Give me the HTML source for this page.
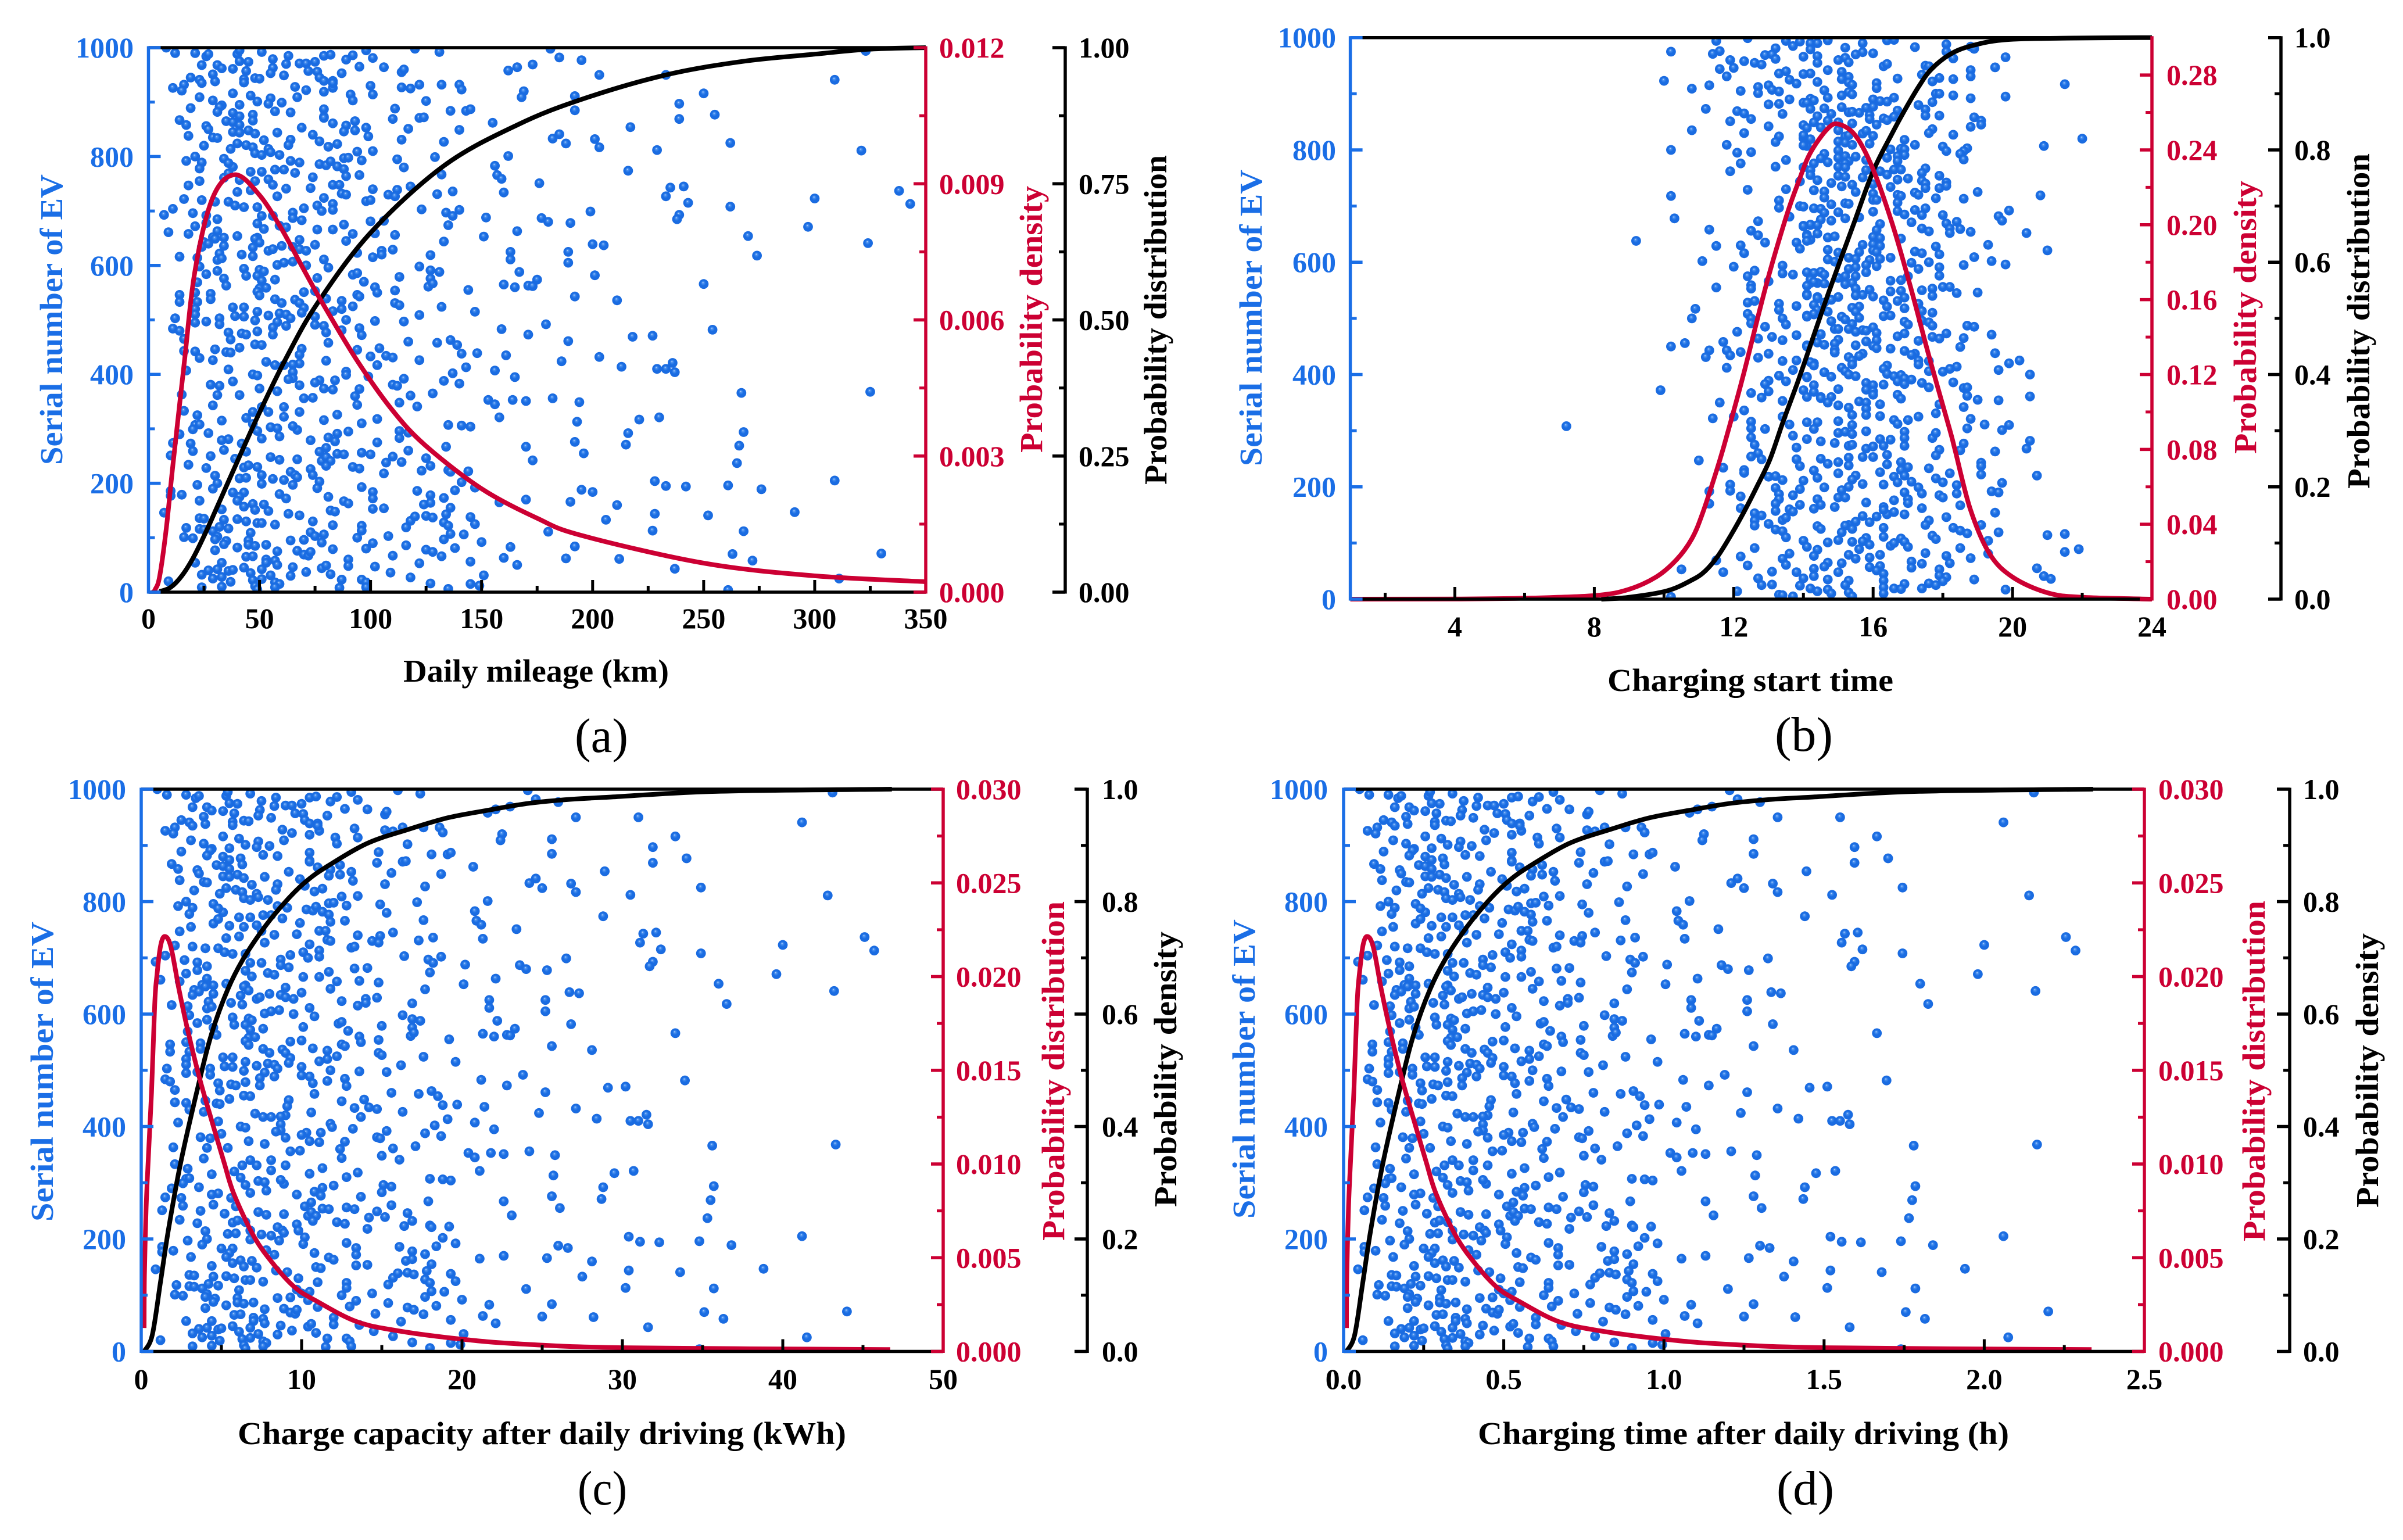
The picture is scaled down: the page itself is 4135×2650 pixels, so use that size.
<!DOCTYPE html>
<html lang="en">
<head>
<meta charset="utf-8">
<title>EV charging statistics: four scatter and distribution panels</title>
<style>
html,body{margin:0;padding:0;background:#fff}
svg{display:block}
text{font-family:"Liberation Serif",serif}
.tl{font-size:50px;font-weight:bold}
.at{font-size:55px;font-weight:bold}
</style>
</head>
<body>
<svg id="fig" xmlns="http://www.w3.org/2000/svg" width="4135" height="2650" viewBox="0 0 4135 2650">
<defs>
<radialGradient id="ball" cx="50%" cy="50%" r="52%" fx="42%" fy="34%">
<stop offset="0" stop-color="#d8e8ff"/>
<stop offset="0.16" stop-color="#4d93f0"/>
<stop offset="0.5" stop-color="#1a6de2"/>
<stop offset="1" stop-color="#1a6ae0"/>
</radialGradient>
</defs>
<g id="panel-a">
<text class="at" fill="#1a6ee6" transform="translate(107,800) rotate(-90)" textLength="500" lengthAdjust="spacingAndGlyphs">Serial number of EV</text>
<text class="at" fill="#cc0033" transform="translate(1793,779) rotate(-90)" textLength="459" lengthAdjust="spacingAndGlyphs">Probability density</text>
<text class="at" fill="#000" transform="translate(2007,834) rotate(-90)" textLength="567" lengthAdjust="spacingAndGlyphs">Probability distribution</text>
<text class="at" fill="#000" x="694" y="1173" textLength="457" lengthAdjust="spacingAndGlyphs">Daily mileage (km)</text>
<text fill="#000" font-size="84" x="989" y="1294" textLength="92" lengthAdjust="spacingAndGlyphs">(a)</text>
</g>
<g id="panel-b">
<text class="at" fill="#1a6ee6" transform="translate(2171,802) rotate(-90)" textLength="510" lengthAdjust="spacingAndGlyphs">Serial number of EV</text>
<text class="at" fill="#cc0033" transform="translate(3882,781) rotate(-90)" textLength="470" lengthAdjust="spacingAndGlyphs">Probability density</text>
<text class="at" fill="#000" transform="translate(4077,841) rotate(-90)" textLength="577" lengthAdjust="spacingAndGlyphs">Probability distribution</text>
<text class="at" fill="#000" x="2766" y="1189" textLength="492" lengthAdjust="spacingAndGlyphs">Charging start time</text>
<text fill="#000" font-size="84" x="3054" y="1292" textLength="100" lengthAdjust="spacingAndGlyphs">(b)</text>
</g>
<g id="panel-c">
<text class="at" fill="#1a6ee6" transform="translate(91,2102) rotate(-90)" textLength="516" lengthAdjust="spacingAndGlyphs">Serial number of EV</text>
<text class="at" fill="#cc0033" transform="translate(1831,2135) rotate(-90)" textLength="584" lengthAdjust="spacingAndGlyphs">Probability distribution</text>
<text class="at" fill="#000" transform="translate(2024,2077) rotate(-90)" textLength="474" lengthAdjust="spacingAndGlyphs">Probability density</text>
<text class="at" fill="#000" x="409" y="2485" textLength="1047" lengthAdjust="spacingAndGlyphs">Charge capacity after daily driving (kWh)</text>
<text fill="#000" font-size="84" x="994" y="2589" textLength="85" lengthAdjust="spacingAndGlyphs">(c)</text>
</g>
<g id="panel-d">
<text class="at" fill="#1a6ee6" transform="translate(2159,2097) rotate(-90)" textLength="515" lengthAdjust="spacingAndGlyphs">Serial number of EV</text>
<text class="at" fill="#cc0033" transform="translate(3897,2136) rotate(-90)" textLength="586" lengthAdjust="spacingAndGlyphs">Probability distribution</text>
<text class="at" fill="#000" transform="translate(4092,2078) rotate(-90)" textLength="472" lengthAdjust="spacingAndGlyphs">Probability density</text>
<text class="at" fill="#000" x="2543" y="2485" textLength="914" lengthAdjust="spacingAndGlyphs">Charging time after daily driving (h)</text>
<text fill="#000" font-size="84" x="3057" y="2589" textLength="99" lengthAdjust="spacingAndGlyphs">(d)</text>
</g>
</svg>
<script>
// Serial numbers of the EVs shown in panels a, c and d
const serialNumbers=[
1000,990,990,984,988,988,995,992,985,979,975,974,968,968,962,961,971,971,974,970,963,985,987,978,986,995,981,965,964,998,992,998,982,977,969,964,958,950,950,
945,941,935,938,951,957,942,936,944,943,953,949,957,956,945,939,939,953,955,960,926,932,921,928,922,919,926,935,930,927,925,932,932,932,923,
909,916,912,903,895,894,891,901,907,897,899,909,914,914,903,902,920,909,911,885,889,882,880,874,877,883,881,887,888,884,884,887,873,
867,858,865,863,858,866,871,865,869,871,872,862,856,850,848,842,845,844,844,853,857,861,846,848,853,851,849,854,838,835,834,830,831,840,837,831,827,833,841,824,832,
820,814,824,821,817,814,821,823,828,818,810,817,812,801,799,806,803,808,803,809,800,792,796,789,792,795,797,798,793,786,784,791,783,
781,788,789,778,782,780,774,767,772,772,776,776,770,777,761,769,762,764,766,766,759,755,757,755,758,747,748,741,742,748,748,740,745,739,751,734,735,738,
732,730,727,731,736,730,727,724,722,720,717,717,710,707,710,713,718,720,705,700,702,703,697,691,702,699,704,693,696,707,697,692,
685,691,687,683,691,677,678,672,673,670,675,681,682,687,680,678,688,674,661,663,666,666,667,663,658,652,651,656,659,658,653,649,651,654,649,643,647,645,644,
640,636,642,634,633,636,634,630,627,638,639,637,627,630,623,629,627,620,615,619,625,625,622,616,614,610,620,617,613,611,596,607,605,601,600,598,611,605,
598,594,592,589,590,591,588,588,582,584,581,581,583,586,570,579,577,574,576,576,569,563,572,565,560,563,562,574,561,567,558,559,560,555,554,
552,551,553,550,546,545,550,548,546,543,543,536,533,538,538,533,531,539,535,537,531,531,527,524,523,523,515,520,510,522,513,525,516,520,515,508,512,510,507,506,509,
503,503,506,503,499,500,495,497,496,492,491,489,498,497,492,486,484,480,477,479,489,477,481,485,472,483,465,475,473,473,473,469,471,464,458,460,458,463,454,461,
455,454,449,443,442,446,441,440,447,445,448,436,438,439,435,433,434,431,425,423,417,417,420,418,426,424,432,430,426,417,413,
407,409,404,405,402,407,414,410,410,400,398,393,396,399,392,395,387,391,389,389,381,379,388,383,381,379,380,385,374,372,373,363,362,374,369,360,361,365,356,357,362,353,345,353,351,356,349,343,344,348,341,340,340,
941,916,897,877,869,825,811,743,745,727,715,708,723,737,713,693,685,671,654,641,618,566,482,421,404,366,368,994,
321,294,269,237,195,194,196,189,205,141,147,112,70,58,71,43,25,4,
333,325,307,308,299,290,292,315,320,331,296,309,303,301,282,286,298,305,322,331,331,316,326,310,318,279,284,291,295,277,296,283,293,275,267,307,306,304,321,267,242,313,292,317,276,255,271,
274,273,259,251,250,261,281,279,273,258,245,248,243,244,258,265,254,253,256,253,249,260,238,239,246,241,248,241,232,
234,228,229,233,230,230,227,226,215,223,232,224,221,222,218,
214,200,190,209,210,215,199,208,206,221,215,211,197,203,191,193,184,172,202,187,192,186,178,173,
197,186,177,179,146,168,183,183,175,168,180,172,175,167,163,165,170,166,188,184,160,204,
152,157,162,151,161,149,144,141,150,148,153,154,161,164,155,143,144,133,
136,135,134,130,133,120,117,127,127,124,130,123,122,113,119,131,139,140,137,128,122,138,125,111,113,
118,116,115,112,102,109,101,99,97,94,88,95,87,85,87,82,77,95,96,110,103,91,106,100,90,103,97,107,106,92,86,81,80,
75,76,69,67,74,79,78,74,66,67,83,84,63,62,61,65,66,60,54,58,50,60,48,56,50,53,
54,54,39,41,45,42,35,46,44,49,47,37,42,40,32,
31,25,28,30,33,36,27,22,24,20,19,18,15,23,23,18,16,15,31,10,9,11,9,8,9,6,12,5];

// Panel a: daily mileage (km) of the same EVs
const mileageKm=[
8,12,21,26,27,40,41,51,63,56,41,45,24,31,33,38,68,71,75,62,56,79,82,89,92,98,101,95,106,120,131,181,185,195,173,166,162,203,233,
19,23,24,30,29,44,43,43,48,50,55,61,72,76,77,79,83,87,114,115,11,16,15,66,71,79,83,83,100,114,118,122,132,140,141,
23,38,46,29,41,33,32,49,55,54,60,67,91,101,92,125,169,168,192,192,19,31,38,41,47,57,64,79,111,136,143,145,79,
14,17,35,38,41,47,79,93,110,122,124,155,26,27,45,48,38,41,58,69,89,83,88,93,98,117,140,217,18,29,31,52,64,74,99,114,133,182,185,188,201,
25,37,40,44,47,54,63,85,77,81,101,203,229,162,129,48,51,55,59,94,21,17,34,24,64,112,88,90,96,77,80,82,156,
38,36,68,23,85,115,216,132,46,51,57,61,66,88,34,36,74,89,95,157,159,23,41,48,54,18,56,62,73,83,86,101,118,112,176,160,40,46,
87,89,58,130,137,108,111,79,16,24,30,36,39,43,76,83,98,100,70,78,83,123,134,137,140,199,11,7,20,49,65,26,
31,56,65,69,51,49,26,21,59,62,88,100,106,177,180,190,152,135,9,31,76,83,52,166,18,29,34,111,102,92,151,30,49,40,48,25,68,89,133,
27,34,50,24,47,60,65,68,71,75,200,205,54,56,94,110,105,105,101,127,163,189,32,14,22,31,42,47,33,79,81,65,61,58,71,122,163,189,
23,43,50,52,31,127,131,167,201,26,44,49,92,94,97,113,76,57,127,34,22,35,51,160,165,171,173,175,126,128,50,53,102,144,111,
49,70,75,103,14,50,21,28,94,95,192,211,14,28,57,22,60,80,87,66,68,111,113,132,38,43,49,21,21,70,69,92,83,87,147,54,59,62,39,43,122,
12,64,75,32,48,89,21,26,58,32,75,62,102,115,179,56,11,14,36,49,79,80,87,95,96,159,16,42,44,56,171,218,227,37,81,117,130,136,139,189,
48,51,41,16,21,30,35,37,69,94,104,68,141,148,161,100,107,110,80,53,57,61,68,65,122,186,203,23,29,103,143,
17,36,65,89,137,156,213,229,233,47,49,65,99,89,115,165,38,63,77,84,110,112,133,140,28,32,68,75,79,83,95,15,31,50,58,93,118,128,70,74,41,153,156,164,170,182,194,29,94,113,121,51,61,
309,250,239,255,239,262,321,235,241,233,243,262,300,338,343,239,238,297,270,324,274,250,254,236,237,267,325,323,
230,268,266,265,233,242,261,276,309,252,291,268,263,272,330,237,311,261,
16,22,21,23,20,14,27,33,44,47,49,47,55,58,51,59,67,65,61,54,68,79,85,96,103,73,81,85,90,84,113,113,117,103,134,135,141,145,158,170,173,193,216,221,192,196,215,
11,19,20,10,28,34,36,33,42,44,39,55,59,67,77,80,85,88,96,100,110,117,107,114,125,78,80,82,80,
18,26,43,45,49,92,95,73,74,123,127,135,136,144,106,
30,31,29,41,44,51,51,56,61,64,66,67,65,77,76,96,101,101,141,138,147,121,127,133,
22,10,10,15,7,23,38,43,41,40,59,62,81,88,90,158,170,190,195,200,211,228,
33,43,47,48,52,54,63,68,82,84,101,106,124,127,136,134,228,206,
23,25,40,44,34,32,36,49,51,57,74,83,96,96,116,118,120,125,128,133,135,145,147,180,227,
17,23,25,29,31,46,16,20,30,35,34,45,45,48,53,40,30,64,70,73,75,78,79,94,101,108,133,136,142,150,116,138,98,
58,67,70,72,73,83,125,128,132,110,163,192,160,188,212,44,47,53,53,57,58,90,90,145,166,122,
21,33,36,38,43,51,46,65,78,80,102,71,31,27,24,
55,29,33,64,82,109,118,47,51,9,37,57,59,87,96,98,127,145,151,33,24,48,57,86,98,135,149,49];

// Panel c: charge capacity (kWh) of the same EVs
const chargeKwh=[
1,1.6,2.8,3.4,3.6,5.3,5.4,6.8,8.4,7.5,5.5,6,3.2,4.1,4.4,5.1,9,9.4,10,8.3,7.4,10.5,10.9,11.8,12.2,13.1,13.5,12.7,14.1,16,17.4,24.1,24.6,26,23,22.1,21.6,27.1,31,
2.5,3,3.2,4,3.9,5.8,5.7,5.7,6.4,6.7,7.3,8.1,9.6,10.1,10.2,10.5,11,11.6,15.2,15.3,1.5,2.1,2,8.8,9.4,10.5,11.1,11,13.3,15.2,15.7,16.3,17.6,18.6,18.8,
3.1,5.1,6.1,3.9,5.5,4.4,4.3,6.5,7.3,7.2,8,8.9,12.1,13.5,12.2,16.6,22.5,22.4,25.6,25.6,2.5,4.1,5.1,5.5,6.2,7.6,8.5,10.5,14.8,18.1,19.1,19.3,10.5,
1.9,2.3,4.7,5.1,5.5,6.3,10.5,12.4,14.7,16.3,16.5,20.7,3.5,3.6,6,6.4,5.1,5.5,7.7,9.2,11.8,11,11.7,12.4,13.1,15.6,18.7,28.9,2.4,3.9,4.1,6.9,8.5,9.9,13.2,15.2,17.7,24.2,24.6,25,26.8,
3.3,4.9,5.3,5.9,6.3,7.2,8.4,11.3,10.2,10.8,13.5,27.1,30.5,21.6,17.2,6.4,6.8,7.3,7.9,12.5,2.8,2.3,4.5,3.2,8.5,14.9,11.7,12,12.8,10.3,10.7,10.9,20.8,
5.1,4.8,9.1,3,11.3,15.3,28.8,17.6,6.1,6.8,7.6,8.1,8.8,11.7,4.5,4.8,9.9,11.8,12.7,20.9,21.2,3.1,5.5,6.4,7.2,2.4,7.5,8.3,9.7,11.1,11.5,13.5,15.7,14.9,23.4,21.3,5.3,6.1,
11.6,11.8,7.7,17.3,18.2,14.4,14.8,10.5,2.1,3.2,4,4.8,5.2,5.7,10.1,11.1,13.1,13.3,9.3,10.4,11.1,16.4,17.9,18.2,18.7,26.5,1.5,.9,2.7,6.5,8.7,3.5,
4.1,7.5,8.7,9.2,6.8,6.5,3.5,2.8,7.9,8.3,11.7,13.3,14.1,23.6,24,25.3,20.2,18,1.2,4.1,10.1,11.1,6.9,22.1,2.4,3.8,4.5,14.8,13.6,12.2,20.1,4,6.5,5.3,6.4,3.3,9,11.8,17.7,
3.6,4.5,6.7,3.2,6.2,8,8.7,9,9.5,10,26.7,27.3,7.2,7.4,12.5,14.7,14,14,13.5,16.9,21.7,25.2,4.2,1.9,2.9,4.1,5.6,6.3,4.4,10.5,10.8,8.6,8.1,7.7,9.5,16.3,21.7,25.2,
3,5.7,6.7,6.9,4.1,16.9,17.4,22.2,26.8,3.5,5.8,6.5,12.3,12.5,12.9,15,10.1,7.6,16.9,4.5,2.9,4.7,6.8,21.3,22,22.8,23,23.3,16.8,17,6.7,7.1,13.6,19.2,14.8,
6.5,9.3,10,13.7,1.8,6.7,2.8,3.7,12.5,12.7,25.6,28.1,1.8,3.7,7.6,3,8,10.7,11.6,8.8,9,14.8,15,17.6,5.1,5.7,6.5,2.8,2.8,9.3,9.2,12.2,11.1,11.6,19.6,7.2,7.9,8.3,5.2,5.7,16.2,
1.6,8.5,10,4.3,6.4,11.8,2.8,3.5,7.7,4.3,10,8.3,13.6,15.3,23.8,7.4,1.5,1.8,4.8,6.5,10.5,10.7,11.6,12.7,12.8,21.2,2.1,5.6,5.9,7.4,22.8,29.1,30.2,4.9,10.8,15.6,17.3,18.1,18.5,25.2,
6.4,6.8,5.5,2.1,2.8,4,4.7,4.9,9.2,12.5,13.9,9.1,18.8,19.7,21.4,13.3,14.2,14.7,10.6,7.1,7.6,8.1,9,8.7,16.3,24.8,27.1,3,3.9,13.7,19.1,
2.3,4.8,8.7,11.8,18.3,20.8,28.4,30.5,31,6.2,6.5,8.7,13.2,11.9,15.3,22,5,8.4,10.3,11.2,14.7,14.9,17.7,18.7,3.7,4.3,9,10,10.5,11.1,12.7,2,4.1,6.7,7.7,12.4,15.7,17.1,9.3,9.9,5.4,20.4,20.8,21.8,22.6,24.2,25.8,3.9,12.5,15,16.1,6.8,8.1,
41.2,33.3,31.9,34,31.9,34.9,42.8,31.3,32.1,31.1,32.4,34.9,40,45.1,45.7,31.9,31.7,39.6,36,43.2,36.5,33.3,33.9,31.5,31.6,35.6,43.3,43.1,
30.7,35.7,35.5,35.3,31.1,32.3,34.8,36.8,41.2,33.6,38.8,35.7,35.1,36.3,44,31.6,41.5,34.8,
2.1,2.9,2.8,3,2.6,1.9,3.6,4.4,5.8,6.3,6.5,6.2,7.3,7.7,6.8,7.8,8.9,8.7,8.1,7.2,9,10.5,11.3,12.8,13.5,9.7,10.8,11.3,12,11.2,15.1,15,15.6,13.7,17.9,18,18.8,19.3,21.1,22.6,23.1,25.7,28.8,29.5,25.6,26.1,28.7,
1.5,2.5,2.6,1.3,3.7,4.5,4.8,4.4,5.6,5.9,5.2,7.3,7.8,8.9,10.2,10.6,11.3,11.7,12.8,13.3,14.7,15.6,14.2,15.2,16.6,10.4,10.6,10.9,10.7,
2.4,3.5,5.7,6,6.5,12.2,12.7,9.7,9.8,16.4,16.9,18,18.1,19.2,14.1,
4,4.1,3.8,5.4,5.9,6.8,6.8,7.5,8.1,8.5,8.8,8.9,8.6,10.2,10.1,12.8,13.4,13.4,18.8,18.4,19.6,16.1,16.9,17.7,
2.9,1.3,1.3,2,.9,3.1,5,5.7,5.5,5.3,7.8,8.3,10.8,11.7,12,21.1,22.6,25.3,26,26.6,28.1,30.4,
4.4,5.7,6.2,6.4,6.9,7.2,8.4,9.1,10.9,11.2,13.4,14.1,16.5,16.9,18.1,17.8,30.4,27.5,
3,3.3,5.3,5.8,4.5,4.2,4.8,6.5,6.8,7.6,9.8,11,12.8,12.8,15.4,15.7,16,16.6,17,17.7,18,19.3,19.6,24,30.2,
2.2,3,3.3,3.8,4.1,6.1,2.1,2.6,4,4.6,4.5,6,6,6.4,7,5.3,4,8.5,9.3,9.7,10,10.4,10.5,12.5,13.4,14.4,17.7,18.1,18.9,20,15.4,18.4,13,
7.7,8.9,9.3,9.6,9.7,11,16.6,17,17.6,14.6,21.7,25.6,21.3,25,28.2,5.8,6.2,7,7,7.6,7.7,12,12,19.3,22.1,16.2,
2.8,4.4,4.8,5,5.7,6.8,6.1,8.7,10.4,10.6,13.6,9.4,4.1,3.6,3.2,
7.3,3.8,4.4,8.5,10.9,14.5,15.7,6.3,6.8,1.2,4.9,7.6,7.8,11.6,12.8,13,16.9,19.3,20.1,4.4,3.2,6.4,7.6,11.5,13.1,18,19.9,6.5];

// Panel d: charging time (h) of the same EVs
const chargeHours=[
.05,.08,.14,.17,.18,.265,.27,.34,.42,.375,.275,.3,.16,.205,.22,.255,.45,.47,.5,.415,.37,.525,.545,.59,.61,.655,.675,.635,.705,.8,.87,1.205,1.23,1.3,1.15,1.105,1.08,1.355,1.55,
.125,.15,.16,.2,.195,.29,.285,.285,.32,.335,.365,.405,.48,.505,.51,.525,.55,.58,.76,.765,.075,.105,.1,.44,.47,.525,.555,.55,.665,.76,.785,.815,.88,.93,.94,
.155,.255,.305,.195,.275,.22,.215,.325,.365,.36,.4,.445,.605,.675,.61,.83,1.125,1.12,1.28,1.28,.125,.205,.255,.275,.31,.38,.425,.525,.74,.905,.955,.965,.525,
.095,.115,.235,.255,.275,.315,.525,.62,.735,.815,.825,1.035,.175,.18,.3,.32,.255,.275,.385,.46,.59,.55,.585,.62,.655,.78,.935,1.445,.12,.195,.205,.345,.425,.495,.66,.76,.885,1.21,1.23,1.25,1.34,
.165,.245,.265,.295,.315,.36,.42,.565,.51,.54,.675,1.355,1.525,1.08,.86,.32,.34,.365,.395,.625,.14,.115,.225,.16,.425,.745,.585,.6,.64,.515,.535,.545,1.04,
.255,.24,.455,.15,.565,.765,1.44,.88,.305,.34,.38,.405,.44,.585,.225,.24,.495,.59,.635,1.045,1.06,.155,.275,.32,.36,.12,.375,.415,.485,.555,.575,.675,.785,.745,1.17,1.065,.265,.305,
.58,.59,.385,.865,.91,.72,.74,.525,.105,.16,.2,.24,.26,.285,.505,.555,.655,.665,.465,.52,.555,.82,.895,.91,.935,1.325,.075,.045,.135,.325,.435,.175,
.205,.375,.435,.46,.34,.325,.175,.14,.395,.415,.585,.665,.705,1.18,1.2,1.265,1.01,.9,.06,.205,.505,.555,.345,1.105,.12,.19,.225,.74,.68,.61,1.005,.2,.325,.265,.32,.165,.45,.59,.885,
.18,.225,.335,.16,.31,.4,.435,.45,.475,.5,1.335,1.365,.36,.37,.625,.735,.7,.7,.675,.845,1.085,1.26,.21,.095,.145,.205,.28,.315,.22,.525,.54,.43,.405,.385,.475,.815,1.085,1.26,
.15,.285,.335,.345,.205,.845,.87,1.11,1.34,.175,.29,.325,.615,.625,.645,.75,.505,.38,.845,.225,.145,.235,.34,1.065,1.1,1.14,1.15,1.165,.84,.85,.335,.355,.68,.96,.74,
.325,.465,.5,.685,.09,.335,.14,.185,.625,.635,1.28,1.405,.09,.185,.38,.15,.4,.535,.58,.44,.45,.74,.75,.88,.255,.285,.325,.14,.14,.465,.46,.61,.555,.58,.98,.36,.395,.415,.26,.285,.81,
.08,.425,.5,.215,.32,.59,.14,.175,.385,.215,.5,.415,.68,.765,1.19,.37,.075,.09,.24,.325,.525,.535,.58,.635,.64,1.06,.105,.28,.295,.37,1.14,1.455,1.51,.245,.54,.78,.865,.905,.925,1.26,
.32,.34,.275,.105,.14,.2,.235,.245,.46,.625,.695,.455,.94,.985,1.07,.665,.71,.735,.53,.355,.38,.405,.45,.435,.815,1.24,1.355,.15,.195,.685,.955,
.115,.24,.435,.59,.915,1.04,1.42,1.525,1.55,.31,.325,.435,.66,.595,.765,1.1,.25,.42,.515,.56,.735,.745,.885,.935,.185,.215,.45,.5,.525,.555,.635,.1,.205,.335,.385,.62,.785,.855,.465,.495,.27,1.02,1.04,1.09,1.13,1.21,1.29,.195,.625,.75,.805,.34,.405,
2.06,1.665,1.595,1.7,1.595,1.745,2.14,1.565,1.605,1.555,1.62,1.745,2,2.255,2.285,1.595,1.585,1.98,1.8,2.16,1.825,1.665,1.695,1.575,1.58,1.78,2.165,2.155,
1.535,1.785,1.775,1.765,1.555,1.615,1.74,1.84,2.06,1.68,1.94,1.785,1.755,1.815,2.2,1.58,2.075,1.74,
.105,.145,.14,.15,.13,.095,.18,.22,.29,.315,.325,.31,.365,.385,.34,.39,.445,.435,.405,.36,.45,.525,.565,.64,.675,.485,.54,.565,.6,.56,.755,.75,.78,.685,.895,.9,.94,.965,1.055,1.13,1.155,1.285,1.44,1.475,1.28,1.305,1.435,
.075,.125,.13,.065,.185,.225,.24,.22,.28,.295,.26,.365,.39,.445,.51,.53,.565,.585,.64,.665,.735,.78,.71,.76,.83,.52,.53,.545,.535,
.12,.175,.285,.3,.325,.61,.635,.485,.49,.82,.845,.9,.905,.96,.705,
.2,.205,.19,.27,.295,.34,.34,.375,.405,.425,.44,.445,.43,.51,.505,.64,.67,.67,.94,.92,.98,.805,.845,.885,
.145,.065,.065,.1,.045,.155,.25,.285,.275,.265,.39,.415,.54,.585,.6,1.055,1.13,1.265,1.3,1.33,1.405,1.52,
.22,.285,.31,.32,.345,.36,.42,.455,.545,.56,.67,.705,.825,.845,.905,.89,1.52,1.375,
.15,.165,.265,.29,.225,.21,.24,.325,.34,.38,.49,.55,.64,.64,.77,.785,.8,.83,.85,.885,.9,.965,.98,1.2,1.51,
.11,.15,.165,.19,.205,.305,.105,.13,.2,.23,.225,.3,.3,.32,.35,.265,.2,.425,.465,.485,.5,.52,.525,.625,.67,.72,.885,.905,.945,1,.77,.92,.65,
.385,.445,.465,.48,.485,.55,.83,.85,.88,.73,1.085,1.28,1.065,1.25,1.41,.29,.31,.35,.35,.38,.385,.6,.6,.965,1.105,.81,
.14,.22,.24,.25,.285,.34,.305,.435,.52,.53,.68,.47,.205,.18,.16,
.365,.19,.22,.425,.545,.725,.785,.315,.34,.06,.245,.38,.39,.58,.64,.65,.845,.965,1.005,.22,.16,.32,.38,.575,.655,.9,.995,.325];

// Panel b: charging start hour and serial number
const startHours=[
10.2,10,10.8,11.3,10.2,10.8,10.2,10.3,9.2,11.3,11.8,12.1,12.5,11.9,12.2,13.2,13.5,12.4,13.5,13.3,13.3,12.7,12.5,12.7,12.9,12.2,11.5,12.3,11.1,12,12.6,12.4,12.5,12.5,11.5,13.4,13.4,13.7,13,10.9,10.8,12.4,12.5,12.5,12.4,12.6,13.3,13.3,13.8,13.4,13.5,12.9,12.1,10.2,10.6,11.7,11.3,11.2,11.8,11.9,12.2,12.7,13.1,13.4,13.8,12.7,13,13.4,13.8,11.8,13.7,13.3,13,12.9,13.5,11.6,9.9,12.5,13,12.8,13.4,
11.5,12.4,13.5,13.2,13.7,13.9,11.6,11.4,12.9,13.1,13.2,11.9,12.3,12.6,12.8,11.6,12,11.8,13.3,13.5,13.6,13.8,12.7,12.7,13,13.1,13.3,12.2,13.6,13,13.3,14,11.2,12.1,12.3,12.5,11.9,13.4,13,14,12.3,13.3,13.2,14,14.1,14,14.2,13.9,14.3,13.9,13.6,14,14.2,14.1,13.8,13.9,14.2,14.4,14.1,14.5,14.2,14.4,14.1,14.4,14.1,14.3,14.5,14.1,14.3,14.1,14.6,14,14.5,
14.2,14.4,14.7,15.2,15.7,16.4,16.6,17.2,18.1,18.8,18.9,14,14.4,14.4,14.2,15,15.2,15.3,15.5,15.7,16,18.1,18.3,19.8,16.3,16.4,17.5,17.6,19.5,18.8,18.8,14.7,15.1,14.2,14,15.3,15.1,14.4,15.3,15.4,16.7,17.4,17.7,17.9,18.3,21.5,16.1,16.1,14.6,15.3,15.1,14.7,15.4,14.2,14.3,14.1,16,16.2,16.4,16.6,17.8,17.9,18.3,18.8,19.8,17.3,17.7,14.6,14.2,15.1,15.8,16,16.7,17.5,17.5,17.9,14.8,15.3,15.4,15.6,15.9,14.4,15.9,16.3,16.4,16.6,18.9,19.1,19.1,14.7,14.3,15,15.4,16.1,18.8,14.5,14.1,17.7,17.6,18.3,22,15,15.7,15.8,16,15.2,15.3,14,14.2,16.9,15,15.2,15.4,15.9,17.2,14,20.9,18,18.1,18.7,18.6,18.5,18.6,16.5,16.8,16.9,15,16.9,16.4,16.7,14.6,14.5,14.7,15,15.2,15.5,15.3,15.8,16.7,14.3,15.2,15,15.2,15.8,16.6,16.8,17.5,14.2,16.2,16.4,17.4,17.9,14.2,15,15.2,15.7,14.4,17,16.7,17.4,18.1,14.8,15.1,15.4,16,16.5,17.5,17.5,17.9,18.1,14.3,14.6,15.5,19,17.2,17.3,16,16.7,16.8,20.8,14.6,16,16.1,17.8,18.6,16.7,15.2,15.3,14.8,14,14.3,14.5,17.5,17.2,16.7,16,15,19.9,14.6,16.9,17.4,18,19.6,19.7,15.2,15.6,14.5,14.8,16.2,17.1,18.4,18.1,14.2,14,14.4,17.4,17.6,18.2,18.5,18.8,18.2,16.1,14.4,20.4,14.1,14.7,14.9,16,16.2,16.8,14.1,16,15.7,19.3,16.2,17.8,14.7,16,17.2,17.4,17.9,21,16.1,15.6,15,18.9,16.5,15.3,15.5,14.7,14.9,15.9,16.2,19.4,17.6,17.1,18.6,19.8,15.8,16.1,15.5,15.3,17.9,17.3,15.8,14.5,14.1,14.3,14.6,15.2,15.5,17.9,17,15,14.2,16.8,16.5,14.3,14.6,15.4,15.2,14.1,18,18.2,17.7,17.4,15.5,16.5,16.8,15.9,15.7,15.5,18.4,19,14.1,16,17.7,16.9,15,14.4,14.6,14.8,16.3,16.7,17.3,14.3,16.4,15.6,15.4,16.9,14.4,15.5,14.7,17.4,17.7,14.3,14.1,15.1,15.2,16.3,16.5,15.6,17.4,14.8,16.9,17.6,17,17.7,15.4,18.7,18.9,14.9,15,15.3,15.7,15.8,16,15.5,16.1,18.1,19.4,14.5,16.9,16.7,17.7,17.9,18.6,15,16.1,17.3,15.8,14.4,14.6,14.9,15.5,14.1,16,16.5,18.5,16.1,14.9,16.9,19.5,14.9,15.7,17.2,17.1,15.3,15.6,17.3,20.2,19.9,15.4,17.6,14.2,17.3,15.4,16.4,14.3,18.4,15.1,18.2,16.3,15.2,19.6,17.6,18,14.6,20.5,15.3,16.4,14.8,15.5,16.6,16.8,16.9,17.1,16.7,14.1,18.3,17.4,16.9,15.8,16,16.3,14.3,17.6,15,18.6,18.7,15.8,16,14.3,16.7,16,20.5,18.7,14.1,16.8,14.5,14.8,19,19.6,15.6,14.7,15.8,16.2,17.9,15,15.3,15.8,18.6,
15.4,15.8,16.2,16.6,17,17.3,17.8,18.8,19.2,19.9,18.7,19.7,16.7,16.9,15,15.4,14.4,14.1,14.3,15.8,15,15.2,15.4,14.1,14.5,14.9,15.3,15.4,15.8,16,16.2,16.5,16.3,16.9,16.9,17.7,17.8,18.6,20.5,20.4,19.5,18.5,17.9,17.8,16,16.4,15.7,15.3,15,14.5,14.7,15.3,16.8,19.1,19.1,17.6,17,16.8,16.4,16.2,15.5,15,18.2,19.1,14.3,14.4,20.7,14,16.6,16.9,17.8,16.7,17.1,18,19.7,15.4,15.7,15.3,16.3,14.6,17.3,18.4,15.1,16.9,19.4,19.6,17.4,17.9,18,18.4,15,15.2,14.4,14.5,16.6,17,15.8,17,14.9,14.3,16.3,17.4,18.5,16.6,16.4,16.3,16.9,15.7,16.1,15.9,15.5,15.3,18.1,19.5,17.6,17.5,16.3,14.4,14.5,15.2,15.1,15.4,18.3,18.5,18.7,19.1,19.6,21,21.5,16.3,15.8,15.4,15,15.7,17.7,17.8,16.8,14.7,15.9,16.5,16.6,16.9,17,19.3,14,14.1,14.4,15.6,18.5,14.3,15.3,15.5,15.9,16.2,17.5,19.3,21.5,21.9,18.1,18.8,15.1,15.9,16.2,14.7,17.1,17.4,18.2,20.7,14.3,14.6,17.9,16.1,16.3,15,17.1,17.9,18.1,20.9,21.1,14,14.3,14.7,18.9,18,15.3,16.3,15.2,17.6,17.8,16.9,13.9,14.2,14.4,14.7,15.3,15.4,14.8,16.3,16.6,16.8,16.3,17.4,19.8,
7.2,12.3,11.4,12,12.5,12.5,12.9,13.4,13.6,13.7,12.5,12.6,13.8,12.7,12.5,12.8,11,11.7,12.3,12.3,13,13.2,13.4,13.8,13.9,11.9,11.9,11.3,12.2,13.2,13.3,13.3,13.7,13.9,11.3,12.2,13.2,13.2,13.6,13.9,12.6,12.8,12.6,12.6,13,13.4,13.5,13.2,13.4,13.5,13.7,12.6,12.2,11.5,12.4,13.4,13.6,13.5,10.5,11.7,13.1,13.8,12.7,12.8,13.1,12.1,13.3,13.4,13.7,10.2];

const startSerial=[
975,923,909,915,800,835,718,678,638,658,809,795,796,762,776,770,782,729,730,710,697,673,656,648,635,630,629,616,602,592,585,575,559,553,555,594,580,578,566,517,500,508,500,491,528,531,526,515,522,500,489,485,476,450,456,458,443,431,443,434,440,464,467,461,470,430,437,424,425,412,408,398,389,383,388,350,372,367,370,359,353,
994,999,994,981,985,993,976,971,969,970,962,960,958,955,952,944,946,931,936,940,925,918,912,901,915,907,904,905,890,881,882,884,873,869,865,855,851,864,842,844,830,824,814,821,807,769,764,744,728,700,681,665,666,649,635,624,640,651,582,582,563,563,543,538,505,507,471,452,420,396,404,372,360,
990,990,995,982,990,995,996,983,988,984,980,966,967,955,979,960,964,956,970,974,972,975,963,965,949,953,950,949,947,942,931,942,939,936,935,930,926,921,920,916,927,934,922,928,926,917,919,910,906,903,897,893,899,891,888,884,890,887,886,893,900,900,897,892,895,880,885,874,873,876,875,877,870,872,861,861,864,867,868,866,862,860,855,856,853,859,858,852,845,852,849,849,847,845,841,840,839,837,830,827,820,835,829,834,825,824,826,826,819,818,815,813,809,811,809,808,807,806,798,803,798,793,783,801,802,801,799,791,786,789,793,785,778,786,789,788,780,782,780,776,776,770,769,764,765,765,767,764,762,756,759,754,755,754,752,751,746,749,747,745,742,741,735,738,739,734,740,732,732,736,728,726,725,725,724,720,722,720,718,719,715,711,711,714,713,706,705,704,703,699,696,695,696,693,691,690,689,692,688,685,684,684,682,674,678,680,676,674,668,671,672,669,667,664,666,660,655,660,659,654,652,657,651,652,646,644,646,645,643,642,638,632,631,631,629,628,622,621,619,616,614,621,618,618,617,609,608,608,606,605,601,604,606,602,600,599,595,596,595,593,591,588,591,588,582,583,582,581,578,575,575,576,575,572,569,568,567,565,562,563,561,558,556,556,553,550,553,548,549,551,542,541,545,546,541,539,540,537,538,536,528,533,532,531,526,524,521,521,519,518,515,512,512,513,510,508,503,503,498,504,505,501,496,495,494,493,489,487,490,487,485,481,481,481,479,478,484,476,474,473,471,472,473,468,467,464,465,462,461,460,459,457,453,455,452,450,451,446,449,447,444,442,438,439,437,437,435,431,433,425,425,420,425,424,422,418,418,416,416,414,412,410,410,406,408,406,405,404,400,400,401,396,397,397,399,393,391,388,395,386,385,383,385,381,382,381,377,374,376,377,373,370,369,364,364,361,362,360,357,358,360,355,354,352,350,350,347,347,345,341,339,342,
328,328,326,319,319,325,331,321,311,310,304,301,312,298,317,310,315,315,303,299,296,298,294,285,281,278,273,275,268,272,285,284,273,273,287,287,296,277,282,268,263,265,266,256,253,257,253,252,244,250,241,238,244,243,237,233,235,230,240,226,220,224,224,222,229,216,220,211,218,220,215,208,209,208,207,213,205,200,204,199,199,203,194,190,192,190,188,185,181,188,181,181,178,168,176,178,172,171,164,161,164,162,167,155,151,159,151,148,147,137,138,132,146,154,140,132,127,130,125,131,119,125,127,122,117,132,119,114,116,111,109,102,105,103,113,107,108,101,97,95,100,102,93,104,104,93,88,89,91,77,79,72,74,79,82,81,84,89,77,73,64,57,59,65,67,63,64,55,54,58,53,51,45,48,56,42,39,41,36,37,41,35,35,32,33,33,25,28,25,27,24,19,14,17,12,5,10,21,19,18,10,19,17,
308,336,322,325,316,304,303,325,311,291,288,275,270,260,254,249,247,234,230,225,218,219,212,249,237,204,193,192,183,198,187,178,185,196,170,162,170,157,160,168,153,149,140,131,134,141,145,124,121,110,156,91,76,69,60,72,81,61,53,48,49,48,37,25,26,14,8,7,5,4];

// Density and distribution curves
const densityMileageX=[2,3,5,8,11,16,21,29,39,50,60,70,78,94,110,125,150,175,195,250,300,350];
const densityMileageY=[0,.00006,.00034,.0014,.0028,.0050,.0071,.0087,.0092,.00875,.0080,.0071,.0064,.0051,.0040,.00322,.00228,.00163,.00125,.00064,.00036,.00023];
const cdfMileageX=[5,10,15,20,25,30,40,50,62,76,100,133,166,195,233,268,300,324,350];
const cdfMileageY=[.001,.009,.03,.062,.103,.148,.24,.33,.43,.53,.66,.783,.858,.905,.95,.975,.988,.997,1];

const densityStartX=[1,4,6,8,8.95,9.77,10.36,10.8,11.1,11.48,11.7,12,12.3,12.93,13.5,13.87,14.2,14.7,15.02,15.5,16,16.55,17.07,17.6,18.2,18.35,18.79,19.34,20,21,22,24];
const densityStartY=[0,.0001,.0005,.0019,.005,.0118,.0211,.0323,.0455,.067,.0805,.1006,.1214,.1677,.204,.2235,.2385,.2514,.2537,.2475,.2296,.2005,.167,.13,.0904,.0798,.048,.0243,.0118,.0034,.001,0];
const cdfStartX=[8.2,8.95,10.07,10.8,11.18,11.55,11.93,12.3,12.67,13.04,13.41,13.75,13.94,14.69,15.43,16,16.55,16.9,17.3,17.66,18.2,18.8,19.75,21.4,24];
const cdfStartY=[0,.003,.0145,.034,.05,.077,.115,.156,.201,.249,.315,.372,.405,.54,.666,.762,.83,.87,.912,.943,.97,.985,.996,.999,1];

const densityKwhX=[.18,.2,.3,.43,.64,.84,.97,1.22,1.5,1.86,2.36,2.87,3.63,4.4,5.16,5.78,7.05,8.3,9.6,10.9,13.4,16,19.8,23.6,30,46.7];
const densityKwhY=[.00125,.004,.0075,.0101,.0138,.0185,.02,.0217,.02214,.02155,.0193,.01725,.0146,.0123,.0101,.0084,.0061,.0046,.0034,.0027,.0016,.0011,.00067,.0004,.0002,.0001];
const cdfKwhX=[.18,.69,1.2,1.7,2.47,3.6,4.4,5.4,6.4,7.7,9,10.2,11.5,14.05,16.6,19.1,21.7,24.2,26.8,29.3,35.8,46.8];
const cdfKwhY=[0,.029,.123,.217,.337,.478,.566,.644,.7,.755,.8,.834,.861,.903,.928,.949,.963,.975,.982,.986,.996,1];

const densityHoursX=[.009,.01,.015,.0215,.032,.042,.0485,.061,.075,.093,.118,.1435,.1815,.22,.258,.289,.3525,.415,.48,.545,.67,.8,.99,1.18,1.5,2.335];
const densityHoursY=[.00125,.004,.0075,.0101,.0138,.0185,.02,.0217,.02214,.02155,.0193,.01725,.0146,.0123,.0101,.0084,.0061,.0046,.0034,.0027,.0016,.0011,.00067,.0004,.0002,.0001];
const cdfHoursX=[.009,.0345,.06,.085,.1235,.18,.22,.27,.32,.385,.45,.51,.575,.7025,.83,.955,1.085,1.21,1.34,1.465,1.79,2.34];
const cdfHoursY=[0,.029,.123,.217,.337,.478,.566,.644,.7,.755,.8,.834,.861,.903,.928,.949,.963,.975,.982,.986,.996,1];

// Tick values and labels
const serialMajor=[0,200,400,600,800,1000];
const serialMinor=[100,300,500,700,900];
const xMajorA=[0,50,100,150,200,250,300,350];
const xMinorA=[25,75,125,175,225,275,325];
const xLabelsA=['0','50','100','150','200','250','300','350'];
const densMajorA=[0,.003,.006,.009,.012];
const densMinorA=[.0015,.0045,.0075,.0105];
const densLabelsA=['0.000','0.003','0.006','0.009','0.012'];
const probMajorA=[0,.25,.5,.75,1];
const probMinorA=[.125,.375,.625,.875];
const probLabelsA=['0.00','0.25','0.50','0.75','1.00'];
const xMajorB=[4,8,12,16,20,24];
const xMinorB=[2,6,10,14,18,22];
const xLabelsB=['4','8','12','16','20','24'];
const densMajorB=[0,.04,.08,.12,.16,.2,.24,.28];
const densMinorB=[.02,.06,.1,.14,.18,.22,.26];
const densLabelsB=['0.00','0.04','0.08','0.12','0.16','0.20','0.24','0.28'];
const probMajor=[0,.2,.4,.6,.8,1];
const probMinor=[.1,.3,.5,.7,.9];
const probLabels=['0.0','0.2','0.4','0.6','0.8','1.0'];
const xMajorC=[0,10,20,30,40,50];
const xMinorC=[5,15,25,35,45];
const xLabelsC=['0','10','20','30','40','50'];
const xMajorD=[0,.5,1,1.5,2,2.5];
const xMinorD=[.25,.75,1.25,1.75,2.25];
const xLabelsD=['0.0','0.5','1.0','1.5','2.0','2.5'];
const densMajorCD=[0,.005,.01,.015,.02,.025,.03];
const densMinorCD=[.0025,.0075,.0125,.0175,.0225,.0275];
const densLabelsCD=['0.000','0.005','0.010','0.015','0.020','0.025','0.030'];

const BLUE='#1a6ee6',RED='#cc0033',BLACK='#000';
const SVGNS='http://www.w3.org/2000/svg';

function mk(parent,tag,attrs,txt){
  const el=document.createElementNS(SVGNS,tag);
  for(const k in attrs)el.setAttribute(k,attrs[k]);
  if(txt!==undefined)el.textContent=txt;
  parent.appendChild(el);
  return el;
}
function scale(d0,d1,r0,r1){return v=>r0+(v-d0)*(r1-r0)/(d1-d0);}
function smoothPath(xs,ys,sx,sy){
  const P=xs.map((x,i)=>[sx(x),sy(ys[i])]);
  let d='M'+P[0][0].toFixed(1)+' '+P[0][1].toFixed(1);
  for(let i=0;i<P.length-1;i++){
    const a=P[Math.max(i-1,0)],b=P[i],c=P[i+1],e=P[Math.min(i+2,P.length-1)];
    const c1=[b[0]+(c[0]-a[0])/6,b[1]+(c[1]-a[1])/6],c2=[c[0]-(e[0]-b[0])/6,c[1]-(e[1]-b[1])/6];
    d+='C'+c1[0].toFixed(1)+' '+c1[1].toFixed(1)+' '+c2[0].toFixed(1)+' '+c2[1].toFixed(1)+' '+c[0].toFixed(1)+' '+c[1].toFixed(1);
  }
  return d;
}
function drawPanel(c){
  const g=document.getElementById(c.id);
  const sx=scale(c.xMin,c.xMax,c.L,c.R);
  const sy=scale(0,1000,c.B,c.T);
  const sRed=scale(0,c.redMax,c.B,c.T);
  const sBlack=scale(0,1,c.B,c.T);
  const clip=mk(g,'clipPath',{id:c.id+'-clip'});
  mk(clip,'rect',{x:c.L,y:c.T,width:c.R-c.L,height:c.B-c.T});
  const pts=mk(g,'g',{'clip-path':'url(#'+c.id+'-clip)'});
  
  
  c.xs.forEach((v,i)=>{
    if(c.ys[i]===undefined)return;
    const dot=mk(pts,'circle',{cx:sx(v).toFixed(1),cy:sy(c.ys[i]).toFixed(1),r:8.4,fill:'url(#ball)'});
    
    
  });
  const cdf=mk(g,'path',{d:smoothPath(c.cdfX,c.cdfY,sx,sBlack),fill:'none',stroke:BLACK,'stroke-width':8,'stroke-linejoin':'round'});
  
  
  const pdf=mk(g,'path',{d:smoothPath(c.pdfX,c.pdfY,sx,sRed),fill:'none',stroke:RED,'stroke-width':8,'stroke-linejoin':'round'});
  
  

  function line(x1,y1,x2,y2,col,w,name){
    const el=mk(g,'line',{x1,y1,x2,y2,stroke:col,'stroke-width':w});
    
    
  }
  function label(x,y,anchor,col,t,name){
    const el=mk(g,'text',{x,y,'text-anchor':anchor,fill:col,class:'tl'},t);
    
    
  }
  // top and bottom spines
  line(c.L,c.T,c.R,c.T,BLACK,5.5,'top-spine');
  line(c.L,c.B,c.R,c.B,BLACK,5.5,'x-axis-line');
  c.xMaj.forEach((v,i)=>{
    line(sx(v),c.B,sx(v),c.B-21,BLACK,5,'x-major-tick');
    label(sx(v),c.xLabelY,'middle',BLACK,c.xLab[i],'x-tick-label');
  });
  c.xMin2.forEach(v=>{line(sx(v),c.B,sx(v),c.B-11,BLACK,5,'x-minor-tick');});
  // left axis
  line(c.L,c.T-2.5,c.L,c.B+2.5,BLUE,5.5,'left-axis-line');
  serialMajor.forEach(v=>{
    line(c.L,sy(v),c.L+21,sy(v),BLUE,5.5,'left-major-tick');
    label(c.blueX,sy(v)+17,'end',BLUE,String(v),'left-tick-label');
  });
  serialMinor.forEach(v=>{line(c.L,sy(v),c.L+11,sy(v),BLUE,5,'left-minor-tick');});
  // red axis
  line(c.R,c.T-2.5,c.R,c.B+2.5,RED,5.5,'density-axis-line');
  c.redMaj.forEach((v,i)=>{
    line(c.R,sRed(v),c.R-21,sRed(v),RED,5.5,'density-major-tick');
    label(c.redX,sRed(v)+17,'start',RED,c.redLab[i],'density-tick-label');
  });
  c.redMin.forEach(v=>{line(c.R,sRed(v),c.R-11,sRed(v),RED,5,'density-minor-tick');});
  // black axis
  line(c.A,c.T-2.5,c.A,c.B+2.5,BLACK,5.5,'probability-axis-line');
  c.blkMaj.forEach((v,i)=>{
    line(c.A,sBlack(v),c.A-22,sBlack(v),BLACK,5.5,'probability-major-tick');
    label(c.blkX,sBlack(v)+17,'start',BLACK,c.blkLab[i],'probability-tick-label');
  });
  c.blkMin.forEach(v=>{line(c.A,sBlack(v),c.A-11,sBlack(v),BLACK,5,'probability-minor-tick');});
}

drawPanel({id:'panel-a',L:255.5,R:1593,T:82,B:1019,A:1833,xMin:0,xMax:350,redMax:.012,
  xs:mileageKm,ys:serialNumbers,pdfX:densityMileageX,pdfY:densityMileageY,cdfX:cdfMileageX,cdfY:cdfMileageY,
  xMaj:xMajorA,xMin2:xMinorA,xLab:xLabelsA,xLabelY:1081,blueX:230,redX:1616,blkX:1856,
  redMaj:densMajorA,redMin:densMinorA,redLab:densLabelsA,blkMaj:probMajorA,blkMin:probMinorA,blkLab:probLabelsA});
drawPanel({id:'panel-b',L:2323.6,R:3703,T:64.7,B:1031,A:3925,xMin:1,xMax:24,redMax:.3,
  xs:startHours,ys:startSerial,pdfX:densityStartX,pdfY:densityStartY,cdfX:cdfStartX,cdfY:cdfStartY,
  xMaj:xMajorB,xMin2:xMinorB,xLab:xLabelsB,xLabelY:1095,blueX:2299,redX:3728,blkX:3948,
  redMaj:densMajorB,redMin:densMinorB,redLab:densLabelsB,blkMaj:probMajor,blkMin:probMinor,blkLab:probLabels});
drawPanel({id:'panel-c',L:243,R:1623,T:1358,B:2325.5,A:1871,xMin:0,xMax:50,redMax:.03,
  xs:chargeKwh,ys:serialNumbers,pdfX:densityKwhX,pdfY:densityKwhY,cdfX:cdfKwhX,cdfY:cdfKwhY,
  xMaj:xMajorC,xMin2:xMinorC,xLab:xLabelsC,xLabelY:2390,blueX:217,redX:1645,blkX:1896,
  redMaj:densMajorCD,redMin:densMinorCD,redLab:densLabelsCD,blkMaj:probMajor,blkMin:probMinor,blkLab:probLabels});
drawPanel({id:'panel-d',L:2312,R:3690,T:1358,B:2325.5,A:3940,xMin:0,xMax:2.5,redMax:.03,
  xs:chargeHours,ys:serialNumbers,pdfX:densityHoursX,pdfY:densityHoursY,cdfX:cdfHoursX,cdfY:cdfHoursY,
  xMaj:xMajorD,xMin2:xMinorD,xLab:xLabelsD,xLabelY:2390,blueX:2285,redX:3714,blkX:3963,
  redMaj:densMajorCD,redMin:densMinorCD,redLab:densLabelsCD,blkMaj:probMajor,blkMin:probMinor,blkLab:probLabels});
</script>
</body>
</html>
